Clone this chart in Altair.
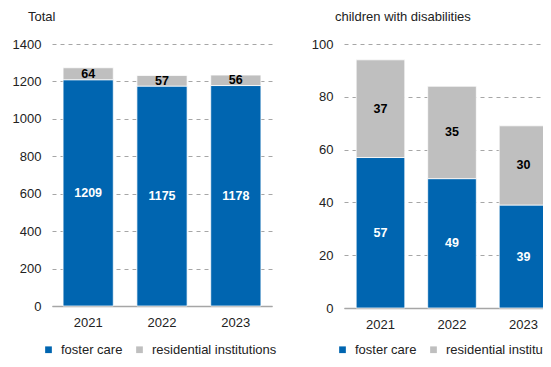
import altair as alt
import pandas as pd

years = ["2021", "2022", "2023"]
series = ["foster care", "residential institutions"]
total_foster = [1209, 1175, 1178]
total_resid = [64, 57, 56]
dis_foster = [57, 49, 39]
dis_resid = [37, 35, 30]
total_ticks = [0, 200, 400, 600, 800, 1000, 1200, 1400]
dis_ticks = [0, 20, 40, 60, 80, 100]

BLUE = "#0065B0"
GRAY = "#BFBFBF"
FONT = "Liberation Sans"
TXT = "#222222"
GRID = "#A6A6A6"


def build(foster, resid):
    rows = []
    for y, f, r in zip(years, foster, resid):
        rows.append(dict(year=y, series=series[0], start=0, end=f, mid=f / 2, value=f))
        rows.append(dict(year=y, series=series[1], start=f, end=f + r, mid=f + r / 2, value=r))
    return pd.DataFrame(rows)


def panel(df, title, ticks, width, height, title_dx, lx, ly, pad_outer, align, lfs):
    base = alt.Chart(df)
    xscale = alt.Scale(paddingInner=0.32, paddingOuter=pad_outer, align=align)
    yscale = alt.Scale(domain=[ticks[0], ticks[-1]], nice=False)
    xaxis = alt.Axis(labelAngle=0, ticks=False, domain=True, domainColor=GRID,
                     domainWidth=1.5, labelPadding=10, labelFontSize=13,
                     labelFont=FONT, labelColor=TXT, grid=False, title=None)
    yaxis = alt.Axis(values=ticks, grid=True, gridDash=[4, 4], gridColor=GRID,
                     gridWidth=1, domain=False, ticks=False, labelPadding=11,
                     labelFontSize=13, labelFont=FONT, labelColor=TXT,
                     format="d", title=None)
    bars = base.mark_bar(stroke="white", strokeWidth=0.75).encode(
        x=alt.X("year:N", scale=xscale, axis=xaxis),
        y=alt.Y("start:Q", scale=yscale, axis=yaxis),
        y2="end:Q",
        color=alt.Color(
            "series:N",
            scale=alt.Scale(domain=series, range=[BLUE, GRAY]),
            sort=series,
            legend=alt.Legend(orient="none", legendX=lx, legendY=ly,
                              direction="horizontal", title=None,
                              symbolType="square", symbolSize=45,
                              symbolStrokeWidth=0, labelFontSize=lfs,
                              labelFont=FONT, labelColor=TXT,
                              columnPadding=10, labelOffset=6),
        ),
    )
    tx = alt.X("year:N", scale=xscale, axis=xaxis)
    ty = alt.Y("mid:Q", scale=yscale, axis=yaxis)
    t1 = base.transform_filter(alt.datum.series == series[0]).mark_text(
        fontWeight="bold", fontSize=12.5, font=FONT, color="white"
    ).encode(x=tx, y=ty, text="value:Q")
    t2 = base.transform_filter(alt.datum.series == series[1]).mark_text(
        fontWeight="bold", fontSize=12.5, font=FONT, color="black"
    ).encode(x=tx, y=ty, text="value:Q")
    return alt.layer(bars, t1, t2).properties(
        width=width,
        height=height,
        title=alt.TitleParams(title, anchor="start", frame="group", dx=title_dx,
                              offset=14, fontSize=13, fontWeight="normal",
                              font=FONT, color=TXT),
    )


left = panel(build(total_foster, total_resid), "Total", total_ticks,
             220, 262, -24, -10, 299, 0.15, 0.5, 13)
right = panel(build(dis_foster, dis_resid), "children with disabilities", dis_ticks,
              216, 264, -9, -8, 299, 0.17, 0.5, 13)

chart = alt.hconcat(left, right, spacing=34).resolve_scale(
    color="independent", x="independent", y="independent"
).resolve_legend(color="independent").properties(
    autosize=alt.AutoSizeParams(type="none"),
    padding={"left": 44, "top": 36, "right": 491, "bottom": 314},
    background="white",
).configure_view(stroke=None)

chart.save("out.html", embed_options={"renderer": "svg", "actions": False})
